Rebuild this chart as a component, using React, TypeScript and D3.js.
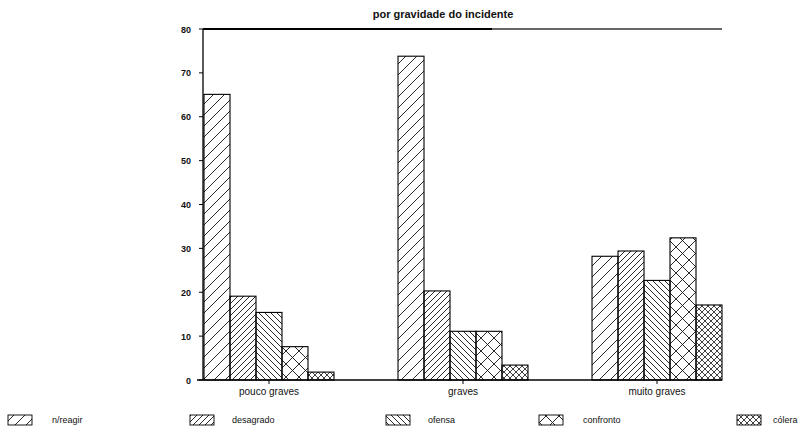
import React from "react";
import * as d3 from "d3";

const categories = ["pouco graves", "graves", "muito graves"];
const seriesNames = ["n/reagir", "desagrado", "ofensa", "confronto", "cólera"];
const nReagir = [65.1, 73.8, 28.2];
const desagrado = [19.1, 20.3, 29.4];
const ofensa = [15.4, 11.1, 22.7];
const confronto = [7.6, 11.1, 32.4];
const colera = [1.8, 3.4, 17.1];
const yTicks = [0, 10, 20, 30, 40, 50, 60, 70, 80];
const title = "por gravidade do incidente";

const seriesValues = [nReagir, desagrado, ofensa, confronto, colera];
const patternIds = ["p-nreagir", "p-desagrado", "p-ofensa", "p-confronto", "p-colera"];

const W = 810;
const H = 438;
const x0 = 204;
const x1 = 722;
const yBase = 380;
const yTop = 29;
const FONT = "'Liberation Sans', Arial, sans-serif";

export default function App() {
  const x = d3.scaleBand<string>().domain(categories).range([x0, x1]).paddingInner(0.33).paddingOuter(0);
  const xs = d3.scaleBand<string>().domain(seriesNames).range([0, x.bandwidth()]).padding(0);
  const y = d3.scaleLinear().domain([0, 80]).range([yBase, yTop]);

  const legendX = [8, 190, 386, 539, 737];
  const legendTextX = [52, 232, 428, 583, 773];

  return (
    <svg width={W} height={H} style={{ position: "absolute", left: 0, top: 0, background: "#fff" }} fontFamily={FONT}>
      <defs>
        <pattern id="p-nreagir" patternUnits="userSpaceOnUse" width={11} height={11}>
          <path d="M0,11 L11,0 M-2,2 L2,-2 M9,13 L13,9" stroke="#111" strokeWidth={0.9} />
        </pattern>
        <pattern id="p-desagrado" patternUnits="userSpaceOnUse" width={6} height={6}>
          <path d="M0,6 L6,0 M-1,1 L1,-1 M5,7 L7,5" stroke="#111" strokeWidth={0.9} />
        </pattern>
        <pattern id="p-ofensa" patternUnits="userSpaceOnUse" width={6} height={6}>
          <path d="M0,0 L6,6 M-1,5 L1,7 M5,-1 L7,1" stroke="#111" strokeWidth={0.9} />
        </pattern>
        <pattern id="p-confronto" patternUnits="userSpaceOnUse" width={13} height={13}>
          <path d="M0,0 L13,13 M0,13 L13,0" stroke="#111" strokeWidth={0.9} />
        </pattern>
        <pattern id="p-colera" patternUnits="userSpaceOnUse" width={6} height={6}>
          <path d="M0,0 L6,6 M0,6 L6,0" stroke="#111" strokeWidth={0.8} />
        </pattern>
      </defs>

      {/* title */}
      <text x={443} y={18} textAnchor="middle" fontSize={11} fontWeight="bold" fill="#111">{title}</text>

      {/* top frame line */}
      <line x1={203} x2={492} y1={yTop} y2={yTop} stroke="#000" strokeWidth={2} />
      <line x1={492} x2={722} y1={yTop} y2={yTop} stroke="#333" strokeWidth={1.5} />

      {/* y axis */}
      <line x1={203} x2={203} y1={yTop} y2={yBase} stroke="#000" strokeWidth={1.3} />
      {yTicks.map((t) => (
        <g key={t}>
          <line x1={199} x2={203} y1={y(t)} y2={y(t)} stroke="#000" strokeWidth={1} />
          <text x={191} y={y(t) + 3.5} textAnchor="end" fontSize={9} fontWeight="bold" fill="#111">{t}</text>
        </g>
      ))}

      {/* bars */}
      {categories.map((c, ci) => (
        <g key={c}>
          {seriesNames.map((s, si) => {
            const v = seriesValues[si][ci];
            const bx = (x(c) ?? 0) + (xs(s) ?? 0);
            return (
              <rect key={s} x={bx} y={y(v)} width={xs.bandwidth()} height={yBase - y(v)}
                fill={`url(#${patternIds[si]})`} stroke="#000" strokeWidth={1.1} />
            );
          })}
        </g>
      ))}

      {/* x axis */}
      <line x1={197} x2={722} y1={yBase} y2={yBase} stroke="#000" strokeWidth={1.3} />
      {categories.map((c) => {
        const cx = (x(c) ?? 0) + x.bandwidth() / 2;
        return (
          <g key={c}>
            <line x1={cx} x2={cx} y1={yBase} y2={yBase + 4} stroke="#000" strokeWidth={1} />
            <text x={cx} y={yBase + 15} textAnchor="middle" fontSize={10} fill="#111">{c}</text>
          </g>
        );
      })}

      {/* legend */}
      {seriesNames.map((s, si) => (
        <g key={s}>
          <rect x={legendX[si]} y={415} width={24} height={10} fill={`url(#${patternIds[si]})`} stroke="#000" strokeWidth={0.9} />
          <text x={legendTextX[si]} y={423} fontSize={9} fill="#111">{s}</text>
        </g>
      ))}
    </svg>
  );
}
